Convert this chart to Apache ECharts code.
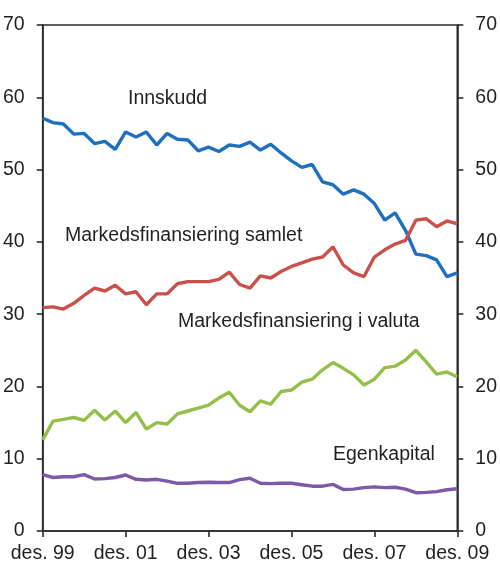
<!DOCTYPE html>
<html>
<head>
<meta charset="utf-8">
<script src="https://cdn.jsdelivr.net/npm/echarts@6/dist/echarts.min.js"></script>
<style>
	html, body { margin: 0; padding: 0; background: #ffffff; }
	#chart { width: 500px; height: 581px; }
</style>
</head>
<body>
<div id="chart"></div>
<script>
	// quarters, des. 99 - des. 09
	var quarters = [
		'des. 99', 'mar. 00', 'jun. 00', 'sep. 00', 'des. 00', 'mar. 01', 'jun. 01', 'sep. 01',
		'des. 01', 'mar. 02', 'jun. 02', 'sep. 02', 'des. 02', 'mar. 03', 'jun. 03', 'sep. 03',
		'des. 03', 'mar. 04', 'jun. 04', 'sep. 04', 'des. 04', 'mar. 05', 'jun. 05', 'sep. 05',
		'des. 05', 'mar. 06', 'jun. 06', 'sep. 06', 'des. 06', 'mar. 07', 'jun. 07', 'sep. 07',
		'des. 07', 'mar. 08', 'jun. 08', 'sep. 08', 'des. 08', 'mar. 09', 'jun. 09', 'sep. 09',
		'des. 09'
	];

	var innskudd = [
		57.1, 56.5, 56.3, 54.9, 55.0, 53.6, 53.9, 52.8, 55.2, 54.5,
		55.2, 53.4, 55.0, 54.2, 54.1, 52.6, 53.1, 52.5, 53.4, 53.2,
		53.8, 52.7, 53.5, 52.3, 51.2, 50.3, 50.7, 48.3, 47.9, 46.6,
		47.2, 46.6, 45.3, 43.0, 44.0, 41.6, 38.3, 38.1, 37.5, 35.2,
		35.7
	];

	var markedSamlet = [
		30.9, 31.0, 30.7, 31.5, 32.6, 33.6, 33.2, 34.0, 32.8, 33.1,
		31.3, 32.8, 32.8, 34.2, 34.5, 34.5, 34.5, 34.8, 35.8, 34.1,
		33.6, 35.3, 35.0, 35.9, 36.6, 37.1, 37.6, 37.9, 39.3, 36.8,
		35.7, 35.2, 37.9, 38.9, 39.7, 40.2, 43.0, 43.2, 42.1, 42.9,
		42.5
	];

	var markedValuta = [
		12.6, 15.2, 15.45, 15.7, 15.3, 16.7, 15.35, 16.6, 15.0, 16.4,
		14.1, 15.0, 14.8, 16.2, 16.6, 17.0, 17.4, 18.4, 19.2, 17.4,
		16.5, 18.0, 17.55, 19.3, 19.5, 20.6, 21.0, 22.3, 23.3, 22.5,
		21.6, 20.2, 21.0, 22.6, 22.8, 23.65, 25.0, 23.4, 21.7, 22.0,
		21.3
	];

	var egenkapital = [
		7.8, 7.4, 7.5, 7.5, 7.8, 7.2, 7.25, 7.4, 7.75, 7.15,
		7.05, 7.15, 6.9, 6.6, 6.6, 6.7, 6.75, 6.7, 6.7, 7.1,
		7.3, 6.6, 6.55, 6.6, 6.6, 6.4, 6.2, 6.2, 6.45, 5.75,
		5.8, 6.0, 6.1, 6.0, 6.05, 5.8, 5.3, 5.35, 5.45, 5.7,
		5.85
	];

	var FONT = 'Liberation Sans, Arial, sans-serif';
	var FSIZE = 19.5;
	var TXT = '#231f20';
	var AXIS = '#2b2b2b';

	function yAxisFor(pos){
		return {
			type: 'value',
			position: pos,
			min: 0,
			max: 70,
			interval: 10,
			axisLine: { show: true, lineStyle: { color: AXIS, width: 1.6 } },
			axisTick: { show: true, inside: false, length: 6, lineStyle: { color: AXIS, width: 1.6 } },
			axisLabel: { color: TXT, fontSize: FSIZE, fontFamily: FONT, margin: 18 },
			splitLine: { show: false }
		};
	}

	function lineSeries(name, data, color){
		return {
			name: name,
			type: 'line',
			data: data,
			symbol: 'none',
			smooth: false,
			lineStyle: { color: color, width: 3.4 },
			itemStyle: { color: color },
			animation: false
		};
	}

	var everyTwoYears = function(idx){ return idx % 8 === 0; };

	var option = {
		backgroundColor: '#ffffff',
		animation: false,
		grid: {
			left: 39, right: 39, top: 25, bottom: 50,
			show: true,
			borderColor: AXIS,
			borderWidth: 1.6,
			containLabel: false
		},
		xAxis: {
			type: 'category',
			data: quarters,
			boundaryGap: false,
			axisLine: { show: true, lineStyle: { color: AXIS, width: 1.6 } },
			axisTick: { show: true, inside: false, length: 6, interval: everyTwoYears, lineStyle: { color: AXIS, width: 1.6 } },
			axisLabel: { color: TXT, fontSize: FSIZE, fontFamily: FONT, margin: 13, interval: everyTwoYears, showMinLabel: true, showMaxLabel: true },
			splitLine: { show: false }
		},
		yAxis: [ yAxisFor('left'), yAxisFor('right') ],
		series: [
			lineSeries('Innskudd', innskudd, '#1f6fbf'),
			lineSeries('Markedsfinansiering samlet', markedSamlet, '#c9504b'),
			lineSeries('Markedsfinansiering i valuta', markedValuta, '#94c04a'),
			lineSeries('Egenkapital', egenkapital, '#7d59a6')
		],
		graphic: [
			{ type: 'text', x: 128, y: 99, style: { text: 'Innskudd', fill: TXT, font: FSIZE + 'px ' + FONT, verticalAlign: 'middle' } },
			{ type: 'text', x: 65, y: 236, style: { text: 'Markedsfinansiering samlet', fill: TXT, font: FSIZE + 'px ' + FONT, verticalAlign: 'middle' } },
			{ type: 'text', x: 178, y: 322, style: { text: 'Markedsfinansiering i valuta', fill: TXT, font: FSIZE + 'px ' + FONT, verticalAlign: 'middle' } },
			{ type: 'text', x: 333, y: 455, style: { text: 'Egenkapital', fill: TXT, font: FSIZE + 'px ' + FONT, verticalAlign: 'middle' } }
		]
	};

	var chart = echarts.init(document.getElementById('chart'), null, { renderer: 'canvas' });
	chart.setOption(option);
</script>
</body>
</html>
